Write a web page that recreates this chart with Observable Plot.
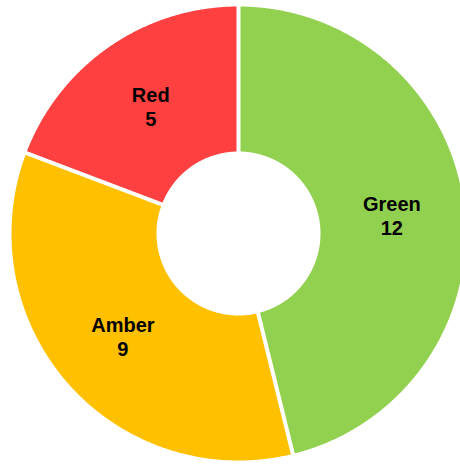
<!DOCTYPE html>
<html>
<head>
<meta charset="utf-8">
<script src="https://cdn.jsdelivr.net/npm/d3@7"></script>
<script src="https://cdn.jsdelivr.net/npm/@observablehq/plot@0.6"></script>
<style>
  html, body { margin: 0; padding: 0; background: #fff; }
</style>
</head>
<body>
<div id="chart"></div>
<script>
const categories = ["Green", "Amber", "Red"];
const values = [12, 9, 5];
const colors = ["#92D050", "#FFC000", "#FF4040"];

const W = 460, H = 466;
const cx = 238, cy = 233;
const R = 227, r0 = 82;

const pie = d3.pie().sort(null).value(d => d.value)(
  categories.map((c, i) => ({label: c, value: values[i]}))
);

// polygons for each slice (angles clockwise from 12 o'clock)
const pts = [];
for (const p of pie) {
  const n = Math.max(2, Math.ceil((p.endAngle - p.startAngle) / 0.005));
  const poly = [];
  for (let k = 0; k <= n; k++) {
    const a = p.startAngle + (p.endAngle - p.startAngle) * k / n;
    poly.push({label: p.data.label, x: R * Math.sin(a), y: R * Math.cos(a)});
  }
  for (let k = n; k >= 0; k--) {
    const a = p.startAngle + (p.endAngle - p.startAngle) * k / n;
    poly.push({label: p.data.label, x: r0 * Math.sin(a), y: r0 * Math.cos(a)});
  }
  poly.push(poly[0]);
  pts.push(...poly);
}

const seps = pie.map(p => ({
  x1: (r0 - 2) * Math.sin(p.startAngle), y1: (r0 - 2) * Math.cos(p.startAngle),
  x2: (R + 4) * Math.sin(p.startAngle), y2: (R + 4) * Math.cos(p.startAngle)
}));

const rl = (R + r0) / 2;
const labels = pie.map(p => {
  const a = (p.startAngle + p.endAngle) / 2;
  return {x: rl * Math.sin(a), y: rl * Math.cos(a), text: `${p.data.label}\n${p.data.value}`};
});

const chart = Plot.plot({
  width: W, height: H,
  margin: 0,
  x: {domain: [-cx, W - cx], axis: null},
  y: {domain: [cy - H, cy], axis: null},
  color: {domain: categories, range: colors},
  style: {background: "#fff", fontFamily: "'Liberation Sans', Arial, sans-serif"},
  marks: [
    Plot.line(pts, {x: "x", y: "y", z: "label", fill: "label", stroke: "none", curve: "linear"}),
    Plot.link(seps, {x1: "x1", y1: "y1", x2: "x2", y2: "y2", stroke: "white", strokeWidth: 4}),
    Plot.text(labels, {x: "x", y: "y", text: "text", fontSize: 20, fontWeight: "bold", fill: "black", lineHeight: 1.2})
  ]
});
document.getElementById("chart").append(chart);
</script>
</body>
</html>
